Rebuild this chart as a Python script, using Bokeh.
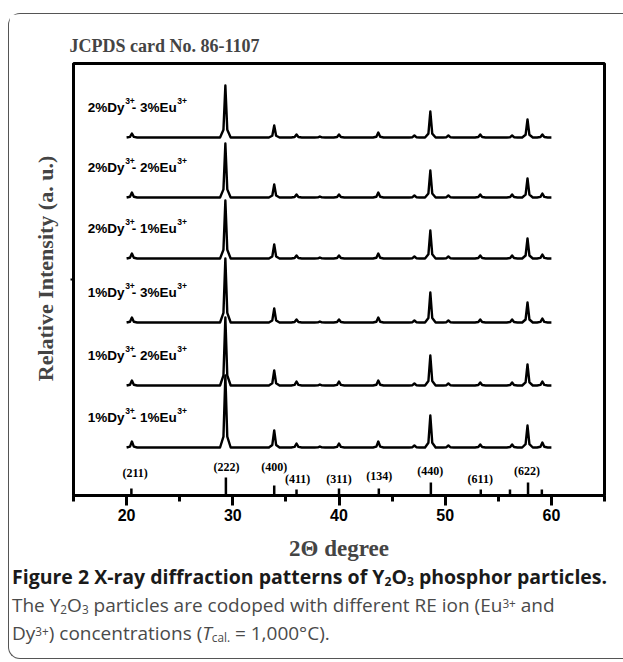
from bokeh.plotting import figure
from bokeh.models import FixedTicker, Range1d, Div, ColumnDataSource
from bokeh.layouts import column
from bokeh.core.properties import value
from bokeh.embed import file_html
from bokeh.resources import INLINE

# ---------------- data ----------------
dy_conc = ["1%", "1%", "1%", "2%", "2%", "2%"]
eu_conc = ["1%", "2%", "3%", "1%", "2%", "3%"]
scan_start = 20.0
scan_end = 60.0
peak_2theta = [20.5, 29.3, 33.9, 36.0, 38.2, 40.0, 43.7, 47.1, 48.6, 50.3, 53.3, 56.3, 57.75, 59.15]
int_1_1 = [6, 72, 17, 4, 1, 4, 6, 2, 32, 2, 3, 3, 22, 5]
int_1_2 = [5, 68, 15, 4, 1, 4, 5, 2, 30, 2, 3, 3, 21, 4]
int_1_3 = [5, 64, 14, 3, 1, 3, 5, 2, 30, 2, 3, 3, 20, 4]
int_2_1 = [5, 58, 14, 3, 1, 3, 5, 2, 28, 2, 3, 3, 20, 4]
int_2_2 = [5, 54, 13, 3, 1, 3, 5, 2, 27, 2, 3, 3, 19, 4]
int_2_3 = [4, 52, 12, 3, 1, 3, 5, 2, 26, 2, 3, 2, 18, 3]
intensities = [int_1_1, int_1_2, int_1_3, int_2_1, int_2_2, int_2_3]

jcpds_2theta = [20.45, 29.35, 33.9, 36.0, 40.0, 43.75, 48.65, 53.35, 56.1, 57.8, 59.1]
jcpds_int = [7, 18, 10, 6, 7, 7, 13, 6, 6, 13, 6]
jcpds_hkl = ["(211)", "(222)", "(400)", "(411)", "(311)", "(134)", "(440)", "(611)", "", "(622)", ""]

x_ticks = [20, 30, 40, 50, 60]
x_minor = [15, 25, 35, 45, 55, 65]

# ---------------- layout / style ----------------
baselines = [48, 110, 173, 237, 298, 358]     # vertical offset of each pattern (px units)
W1, W2 = 0.18, 0.5                            # peak drawing half-widths (deg)
LABEL_DY = 30
LABEL_X = 16.35
hkl_label_x = [20.8, 29.4, 33.9, 36.1, 40.0, 43.8, 48.6, 53.3, 57.7]
hkl_label_y = [23, 29, 29, 17, 17, 20, 25, 17, 25]
SERIF = value("Liberation Serif")
SANS = value("Liberation Sans")

p = figure(frame_width=531, frame_height=432, x_range=Range1d(15, 65), y_range=Range1d(0, 432),
           output_backend="svg", toolbar_location=None,
           min_border_left=64, min_border_right=19, min_border_top=49, min_border_bottom=67,
           title="JCPDS card No. 86-1107")
p.title.text_font = "Liberation Serif"
p.title.text_font_size = "18px"
p.title.text_font_style = "bold"
p.title.align = "left"
p.title.offset = -4
p.title.standoff = 15
p.xgrid.visible = False
p.ygrid.visible = False
p.outline_line_color = "black"
p.outline_line_width = 3
p.background_fill_color = "white"
p.border_fill_color = "white"

xa = p.xaxis[0]
xa.ticker = FixedTicker(ticks=x_ticks, minor_ticks=x_minor)
xa.axis_line_width = 3
xa.major_tick_out = 10
xa.major_tick_in = 0
xa.minor_tick_out = 6
xa.minor_tick_in = 0
xa.major_tick_line_width = 3
xa.minor_tick_line_width = 3
xa.major_label_text_font = "Liberation Sans"
xa.major_label_text_font_style = "bold"
xa.major_label_text_font_size = "16px"
xa.major_label_text_color = "black"
xa.major_label_standoff = 3
xa.axis_label = "2\u0398 degree"
xa.axis_label_text_font = "Liberation Serif"
xa.axis_label_text_font_style = "bold"
xa.axis_label_text_font_size = "23px"
xa.axis_label_standoff = 12

ya = p.yaxis[0]
ya.ticker = FixedTicker(ticks=[216])
ya.axis_line_width = 3
ya.major_tick_out = 3
ya.major_tick_in = 0
ya.major_tick_line_width = 2
ya.minor_tick_line_color = None
ya.major_label_overrides = {216: ""}
ya.major_label_standoff = 0
ya.axis_label = "\u00a0\u00a0\u00a0\u00a0Relative Intensity (a. u.)"
ya.axis_label_text_font = "Liberation Serif"
ya.axis_label_text_font_style = "bold"
ya.axis_label_text_font_size = "22px"
ya.axis_label_standoff = 13

# diffraction patterns
xs, ys = [], []
for base, heights in zip(baselines, intensities):
    cx, cy = [scan_start], [base]
    for pos, h in zip(peak_2theta, heights):
        cx += [pos - W2, pos - W1, pos, pos + W1, pos + W2]
        cy += [base, base + 0.15 * h, base + h, base + 0.15 * h, base]
    cx.append(scan_end)
    cy.append(base)
    xs.append(cx)
    ys.append(cy)
p.multi_line(xs, ys, line_color="black", line_width=2.4, line_join="round")

# sample labels (main text + superscripts)
main_src = dict(x=[], y=[], t=[], xo=[])
sup_src = dict(x=[], y=[], t=[], xo=[])
for i in range(len(dy_conc)):
    yl = baselines[i] + LABEL_DY
    main_src["x"] += [LABEL_X, LABEL_X]
    main_src["y"] += [yl, yl]
    main_src["t"] += [dy_conc[i] + "Dy", "- " + eu_conc[i] + "Eu"]
    main_src["xo"] += [0, 44.0]
    sup_src["x"] += [LABEL_X, LABEL_X]
    sup_src["y"] += [yl, yl]
    sup_src["t"] += ["3+", "3+"]
    sup_src["xo"] += [37.3, 89.5]
p.text(x="x", y="y", text="t", x_offset="xo", source=ColumnDataSource(main_src),
       text_font=SANS, text_font_style="bold", text_font_size="13.5px",
       text_baseline="middle", text_align="left", text_color="black")
p.text(x="x", y="y", text="t", x_offset="xo", y_offset=-7, source=ColumnDataSource(sup_src),
       text_font=SANS, text_font_style="bold", text_font_size="8.5px",
       text_baseline="middle", text_align="left", text_color="black")

# JCPDS reference sticks
p.segment(x0=jcpds_2theta, y0=[0] * len(jcpds_2theta), x1=jcpds_2theta, y1=jcpds_int,
          line_color="black", line_width=2.5)
lab = [t for t in jcpds_hkl if t]
p.text(x=hkl_label_x, y=hkl_label_y, text=lab, text_font=SERIF, text_font_style="bold",
       text_font_size="12px", text_align="center", text_baseline="middle", text_color="black")

SUB = 'style="line-height:0;font-size:0.62em;vertical-align:-0.15em"'
SUP = 'style="line-height:0;font-size:0.62em;vertical-align:0.32em"'
cap_html = (
    '<div style="font-family:\'Open Sans\',sans-serif;font-size:19px;line-height:28px;white-space:nowrap;'
    'color:#4a4a4a;padding-left:3px;padding-top:0px">'
    '<span style="font-weight:bold;color:#1a1a1a;font-size:19.5px">Figure 2 X-ray diffraction patterns of '
    f'Y<span {SUB}>2</span>O<span {SUB}>3</span> phosphor particles.</span><br>'
    f'The Y<span {SUB}>2</span>O<span {SUB}>3</span> particles are codoped '
    f'with different RE ion (Eu<span {SUP}>3+</span> and<br>'
    f'Dy<span {SUP}>3+</span>) concentrations (<i>T</i><span {SUB}>cal.</span>'
    ' = 1,000\u00b0C).</div>'
)
cap = Div(text=cap_html, width=614, height=95, margin=(0, 0, 0, 0))

layout = column(p, cap, margin=(13, 0, 0, 8), spacing=0,
                styles={"border-top": "1.5px solid #555", "border-left": "1.5px solid #555",
                        "border-bottom": "1.5px solid #555",
                        "border-top-left-radius": "12px", "border-bottom-left-radius": "12px"})

open("out.html", "w").write(file_html(layout, INLINE))
